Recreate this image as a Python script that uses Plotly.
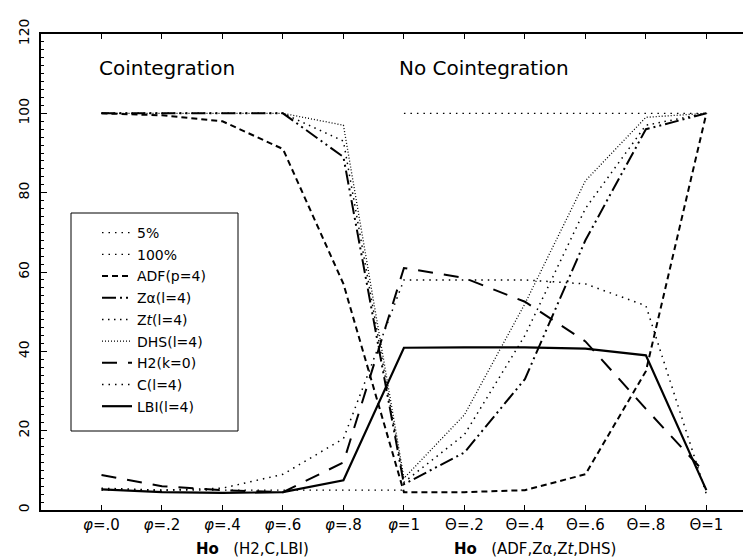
import plotly.graph_objects as go

# ---- data ----
x_labels = ["<i>φ</i>=.0", "<i>φ</i>=.2", "<i>φ</i>=.4", "<i>φ</i>=.6", "<i>φ</i>=.8", "<i>φ</i>=1",
            "Θ=.2", "Θ=.4", "Θ=.6", "Θ=.8", "Θ=1"]
x_pos = list(range(len(x_labels)))

pct5 = [5, 5, 5, 5, 5, 5, None, None, None, None, None]
pct100 = [None, None, None, None, None, 100, 100, 100, 100, 100, 100]
adf = [100, 99.5, 98, 91, 57, 4.5, 4.5, 5, 9, 35, 100]
za = [100, 100, 100, 100, 89, 6.5, 14.5, 33, 68, 96, 100]
zt = [100, 100, 100, 100, 93, 7, 19, 44, 76, 97, 100]
dhs = [100, 100, 100, 100, 97, 8, 24, 52, 83, 99, 100]
h2 = [8.8, 6, 5, 4.5, 12, 61, 58.5, 52.5, 42.5, 25.5, 9]
c_stat = [5.5, 5, 5.5, 9, 18, 58, 58, 58, 57, 51.5, 4]
lbi = [5.2, 4.5, 4.3, 4.5, 7.5, 40.9, 41, 41, 40.7, 39, 5]

y_ticks = [0, 20, 40, 60, 80, 100, 120]

series = [
    ("5%", pct5, "1.5px,5px", 1.3),
    ("100%", pct100, "1.5px,5px", 1.3),
    ("ADF(p=4)", adf, "6px,4px", 2),
    ("Zα(l=4)", za, "14px,4px,2px,4px,2px,4px", 2),
    ("Z<i>t</i>(l=4)", zt, "1.5px,4.5px", 1.5),
    ("DHS(l=4)", dhs, "1px,2px", 1.3),
    ("H2(k=0)", h2, "15px,11px", 2),
    ("C(l=4)", c_stat, "1.5px,5px", 1.5),
    ("LBI(l=4)", lbi, "solid", 2.2),
]

FONT = "DejaVu Sans, Liberation Sans, sans-serif"

fig = go.Figure()
for i, (name, vals, dash, w) in enumerate(series):
    fig.add_trace(go.Scatter(
        x=x_pos, y=vals, name=name, mode="lines",
        line=dict(color="black", width=w, dash=dash),
        connectgaps=False, legendgroup=f"g{i}",
    ))

W, H = 751, 558
ml, mr, mt, mb = 33, 0, 26, 56
pw, ph = W - ml - mr, H - mt - mb

def px_x(p):
    return (p - ml) / pw

def px_y(p):
    return 1 - (p - mt) / ph

fig.update_layout(
    width=W, height=H,
    margin=dict(l=ml, r=mr, t=mt, b=mb),
    paper_bgcolor="white", plot_bgcolor="white",
    font=dict(family=FONT, color="black", size=13),
    showlegend=True,
    legend=dict(
        x=px_x(89), y=px_y(209), xanchor="left", yanchor="top",
        bgcolor="rgba(0,0,0,0)", borderwidth=0,
        font=dict(family=FONT, size=14),
        tracegroupgap=0.5,
    ),
    xaxis=dict(
        range=[-1, 10.87], tickvals=x_pos, ticktext=x_labels,
        ticks="inside", ticklen=5, tickwidth=1, tickcolor="black",
        showline=True, linecolor="black", linewidth=2, mirror="ticks",
        showgrid=False, zeroline=False,
        tickfont=dict(family=FONT, size=15),
    ),
    yaxis=dict(
        range=[0, 120], tickvals=y_ticks,
        ticks="inside", ticklen=6, tickwidth=1, tickcolor="black",
        minor=dict(dtick=2, ticks="inside", ticklen=3, tickcolor="black"),
        showline=True, linecolor="black", linewidth=2, mirror=False,
        showgrid=False, zeroline=False, tickangle=-90,
        ticklabelstandoff=4,
        tickfont=dict(family=FONT, size=14),
    ),
    shapes=[dict(
        type="rect", xref="paper", yref="paper",
        x0=px_x(63), x1=px_x(230), y0=px_y(423), y1=px_y(205),
        line=dict(color="black", width=1),
    )],
    annotations=[
        dict(text="Cointegration", x=-0.07, y=111.5, xref="x", yref="y",
             xanchor="left", yanchor="middle", showarrow=False,
             font=dict(family=FONT, size=20)),
        dict(text="No Cointegration", x=4.88, y=111.5, xref="x", yref="y",
             xanchor="left", yanchor="middle", showarrow=False,
             font=dict(family=FONT, size=20)),
        dict(text="<b>Ho</b>   (H2,C,LBI)", x=2.5, y=px_y(541), xref="x", yref="paper",
             xanchor="center", yanchor="middle", showarrow=False,
             font=dict(family=FONT, size=15)),
        dict(text="<b>Ho</b>   (ADF,Zα,Z<i>t</i>,DHS)", x=7.16, y=px_y(541), xref="x", yref="paper",
             xanchor="center", yanchor="middle", showarrow=False,
             font=dict(family=FONT, size=15)),
    ],
)

fig.write_html("out.html")
